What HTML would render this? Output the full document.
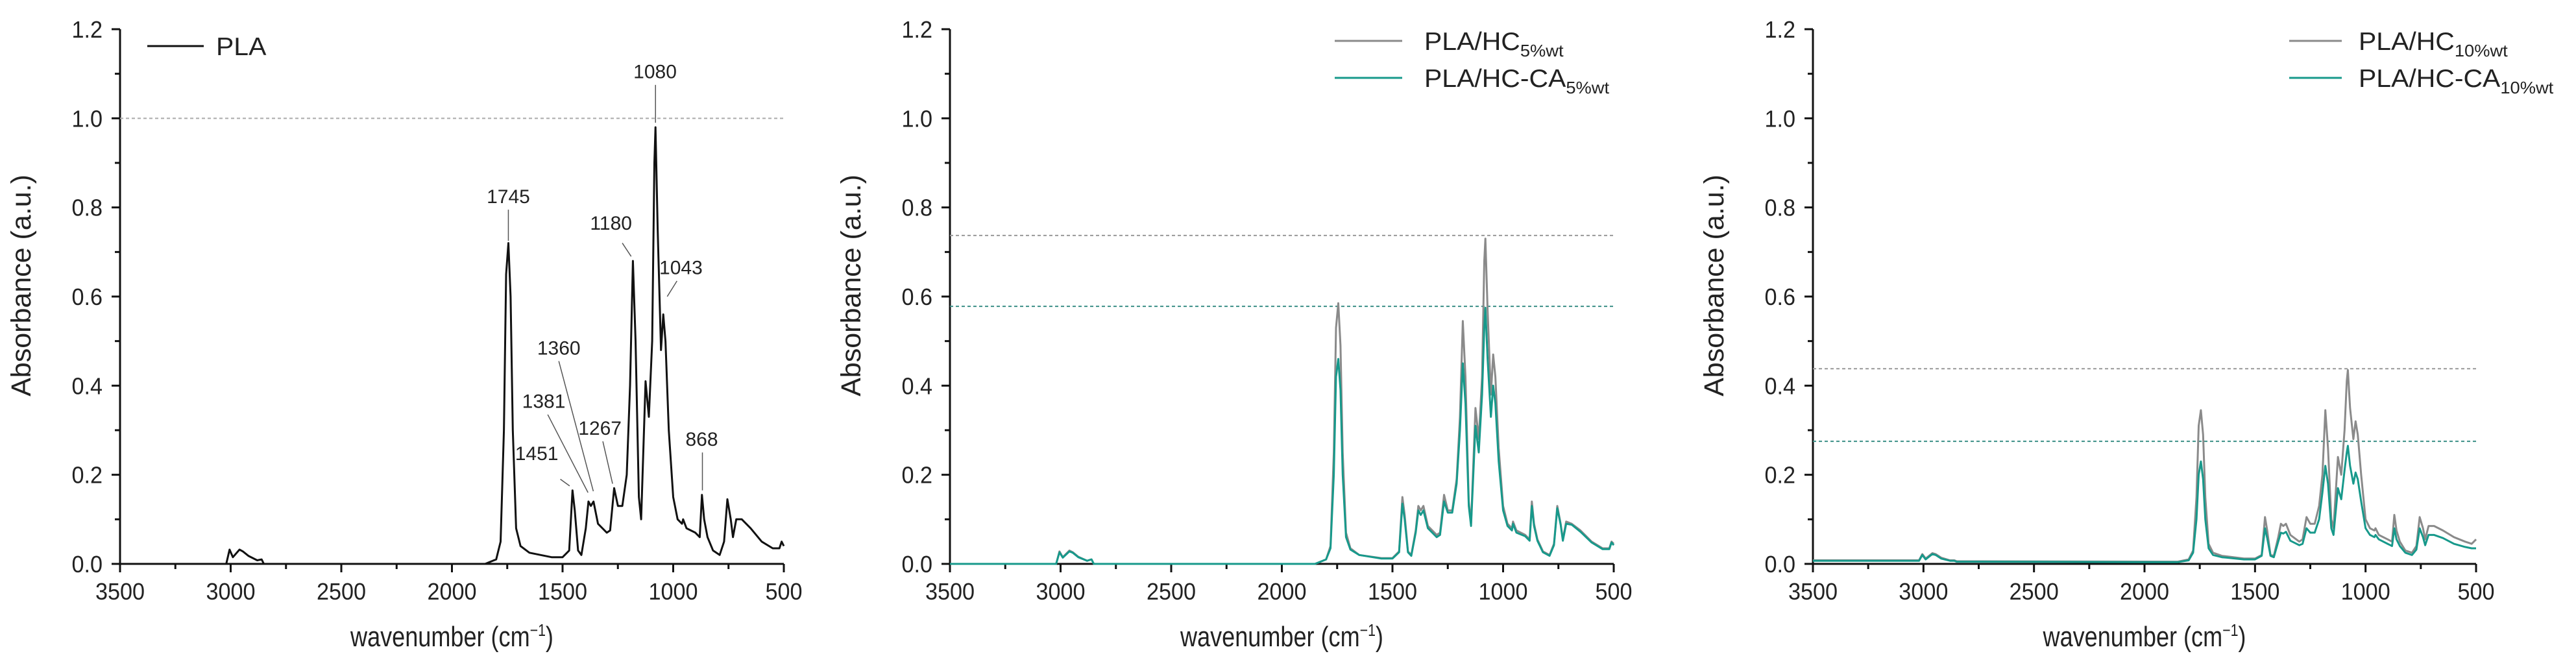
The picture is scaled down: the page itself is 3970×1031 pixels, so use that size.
<!DOCTYPE html>
<html><head><meta charset="utf-8"><style>
html,body{margin:0;padding:0;background:#fff;}
svg{display:block;font-family:"Liberation Sans",Arial,sans-serif;}
</style></head><body>
<svg id="chart" width="3970" height="1031" viewBox="0 0 3970 1031" xmlns="http://www.w3.org/2000/svg"></svg>
<script>
const wn = [3500,3020,3005,2990,2960,2945,2920,2880,2860,2850,1850,1800,1780,1765,1755,1745,1735,1725,1710,1690,1650,1550,1500,1470,1455,1445,1430,1415,1395,1383,1372,1360,1340,1300,1285,1267,1250,1230,1210,1195,1182,1170,1155,1145,1125,1110,1095,1085,1080,1070,1055,1045,1035,1020,1000,980,960,955,940,900,880,870,860,845,820,790,770,755,740,730,715,690,650,600,550,520,510,500];
const pla = [0,0,.032,.015,.032,.028,.018,.008,.01,0,0,.01,.05,.3,.65,.72,.6,.3,.08,.04,.025,.015,.015,.03,.165,.12,.03,.02,.08,.14,.13,.14,.09,.07,.075,.17,.13,.13,.2,.4,.68,.5,.15,.1,.41,.33,.5,.9,.98,.75,.48,.56,.5,.3,.15,.1,.09,.1,.08,.07,.06,.155,.1,.06,.03,.02,.05,.145,.1,.06,.1,.1,.08,.05,.035,.035,.05,.04];
const hc5 = [0,0,.028,.015,.03,.026,.016,.007,.01,0,0,.01,.04,.25,.53,.585,.49,.25,.07,.035,.02,.013,.013,.028,.15,.11,.028,.02,.075,.13,.12,.13,.085,.065,.07,.155,.12,.12,.19,.33,.545,.42,.14,.09,.35,.28,.42,.68,.73,.57,.38,.47,.42,.26,.13,.09,.08,.095,.075,.065,.055,.14,.09,.055,.028,.02,.045,.13,.09,.055,.095,.09,.075,.05,.035,.035,.05,.045];
const hcca5 = [0,0,.026,.014,.028,.025,.015,.007,.01,0,0,.01,.035,.2,.42,.46,.39,.2,.06,.032,.02,.012,.012,.026,.135,.1,.026,.018,.07,.12,.11,.12,.08,.06,.065,.14,.115,.115,.18,.3,.45,.36,.13,.085,.31,.25,.38,.53,.575,.46,.33,.40,.36,.23,.12,.085,.075,.09,.07,.062,.052,.13,.085,.052,.026,.018,.042,.125,.088,.052,.09,.088,.072,.048,.033,.033,.048,.042];
const hc10 = [.008,.008,.022,.012,.024,.022,.014,.008,.008,.006,.005,.01,.03,.15,.31,.345,.29,.15,.045,.025,.018,.012,.012,.02,.105,.075,.02,.018,.06,.09,.085,.09,.065,.05,.055,.105,.09,.09,.13,.2,.345,.26,.1,.08,.24,.2,.3,.41,.435,.35,.28,.32,.29,.2,.1,.08,.075,.08,.065,.055,.05,.11,.075,.05,.03,.025,.04,.105,.08,.055,.085,.085,.075,.06,.05,.045,.05,.055];
const hcca10 = [.007,.007,.02,.01,.022,.02,.012,.007,.007,.005,.004,.008,.025,.1,.2,.23,.19,.1,.035,.02,.015,.01,.01,.018,.08,.058,.018,.015,.05,.07,.068,.072,.052,.042,.045,.08,.07,.07,.1,.16,.22,.18,.08,.065,.17,.145,.21,.25,.265,.22,.18,.205,.19,.14,.08,.065,.06,.065,.055,.045,.04,.08,.055,.04,.025,.02,.032,.08,.06,.042,.065,.065,.058,.045,.038,.035,.035,.035];
const xTicks = [3500,3000,2500,2000,1500,1000,500];
const yTicks = [0,0.2,0.4,0.6,0.8,1.0,1.2];
const annLabels = ["1745","1080","1180","1043","1360","1381","1267","1451","868"];
const annLabelPos = [[1745,.81],[1082,1.09],[1281,.75],[965,.65],[1517,.47],[1585,.35],[1331,.29],[1617,.233],[871,.265]];
const annLines = [[1745,.795,1745,.725],[1080,1.075,1080,.99],[1230,.72,1190,.69],[983,.635,1027,.60],[1517,.455,1361,.163],[1567,.335,1385,.16],[1318,.275,1274,.18],[1510,.19,1468,.175],[868,.25,868,.165]];
const panel1Refs = [1.0];
const panel2Refs = [0.737, 0.578];
const panel3Refs = [0.438, 0.275];

const NS="http://www.w3.org/2000/svg";
const svg=document.getElementById('chart');
const GRAY="#8a8a8a", TEAL="#17998b";
function mk(tag,attrs,parent){const e=document.createElementNS(NS,tag);for(const k in attrs)e.setAttribute(k,attrs[k]);(parent||svg).appendChild(e);return e;}
function txt(parent,x,y,s,size,anchor,sx){
  const t=mk('text',{transform:`translate(${x},${y}) scale(${sx||0.95},1)`,'font-size':size,'text-anchor':anchor||'start',fill:'#222'},parent);
  t.textContent=s;return t;
}
const Y0=869, Y1=45;
function makePanel(left,right,name){
  const g=mk('g',{});
  
  
  const xs=w=>left+(3500-w)/3000*(right-left);
  const ys=v=>Y0-v/1.2*(Y0-Y1);
  const ax=mk('path',{d:`M${left},${Y1} V${Y0} H${right}`,stroke:'#111','stroke-width':3,fill:'none'},g);
  
  
  for(let w=3500;w>=500;w-=250){
    const maj=w%500===0;
    mk('line',{x1:xs(w),x2:xs(w),y1:Y0,y2:Y0+(maj?13:8),stroke:'#111','stroke-width':3},g);
  }
  for(let i=0;i<=12;i++){
    const v=i*0.1, maj=i%2===0;
    mk('line',{x1:left,x2:left-(maj?13:8),y1:ys(v),y2:ys(v),stroke:'#111','stroke-width':3},g);
  }
  xTicks.forEach(w=>{const t=txt(g,xs(w),924,String(w),36,'middle');
    
    });
  yTicks.forEach(v=>{const t=txt(g,left-27,ys(v)+13,v.toFixed(1),36,'end');
    
    });
  const xt=mk('text',{transform:`translate(${(left+right)/2},${996}) scale(0.82,1)`,'font-size':44,'text-anchor':'middle',fill:'#222'},g);
  
  
  xt.innerHTML='wavenumber (cm<tspan dy="-16" font-size="26">−1</tspan><tspan dy="16">)</tspan>';
  const yt=mk('text',{transform:`translate(${left-138},${440}) rotate(-90)`,'font-size':43,'text-anchor':'middle',fill:'#222'},g);
  
  
  yt.textContent='Absorbance (a.u.)';
  return {g,xs,ys,left,right};
}
function series(p,vals,color,name){
  let d='';
  wn.forEach((w,i)=>{d+=(i?'L':'M')+p.xs(w).toFixed(1)+','+p.ys(vals[i]).toFixed(1);});
  const e=mk('path',{d,stroke:color,'stroke-width':3,fill:'none','stroke-linejoin':'round'},p.g);
  
  
}
function refLine(p,v,color){
  const e=mk('line',{x1:p.left,x2:p.right,y1:p.ys(v),y2:p.ys(v),stroke:color,'stroke-width':2,'stroke-dasharray':'5,4'},p.g);
  
  
}
function legend(p,x1,x2,tx,y,color,main,sub,name){
  const g=mk('g',{},p.g);
  
  
  mk('line',{x1,x2,y1:y,y2:y,stroke:color,'stroke-width':3},g);
  const t=mk('text',{transform:`translate(${tx},${y+14}) scale(1.05,1)`,'font-size':39,fill:'#222'},g);
  t.innerHTML=main+(sub?`<tspan dy="10" font-size="26">${sub}</tspan>`:'');
}

const p1=makePanel(185,1208,'panel-pla');
panel1Refs.forEach(v=>refLine(p1,v,'#aaa'));
series(p1,pla,'#111','series-pla');
legend(p1,227,314,333,71,'#111','PLA','','legend-entry-pla');
annLabels.forEach((s,i)=>{
  const t=txt(p1.g,p1.xs(annLabelPos[i][0]),p1.ys(annLabelPos[i][1]),s,30,'middle',1.0);
  
  
  const L=annLines[i];
  const l=mk('line',{x1:p1.xs(L[0]),y1:p1.ys(L[1]),x2:p1.xs(L[2]),y2:p1.ys(L[3]),stroke:'#555','stroke-width':1.5},p1.g);
  
  
});
const p2=makePanel(1464,2487,'panel-5wt');
refLine(p2,panel2Refs[0],'#999');refLine(p2,panel2Refs[1],'#3a8f86');
series(p2,hc5,GRAY,'series-pla-hc-5wt');
series(p2,hcca5,TEAL,'series-pla-hc-ca-5wt');
legend(p2,2057,2161,2195,63,GRAY,'PLA/HC','5%wt','legend-entry-hc-5wt');
legend(p2,2057,2161,2195,120,TEAL,'PLA/HC-CA','5%wt','legend-entry-hc-ca-5wt');
const p3=makePanel(2794,3816,'panel-10wt');
refLine(p3,panel3Refs[0],'#999');refLine(p3,panel3Refs[1],'#3a8f86');
series(p3,hc10,GRAY,'series-pla-hc-10wt');
series(p3,hcca10,TEAL,'series-pla-hc-ca-10wt');
legend(p3,3528,3609,3635,63,GRAY,'PLA/HC','10%wt','legend-entry-hc-10wt');
legend(p3,3528,3609,3635,120,TEAL,'PLA/HC-CA','10%wt','legend-entry-hc-ca-10wt');
</script>
</body></html>
